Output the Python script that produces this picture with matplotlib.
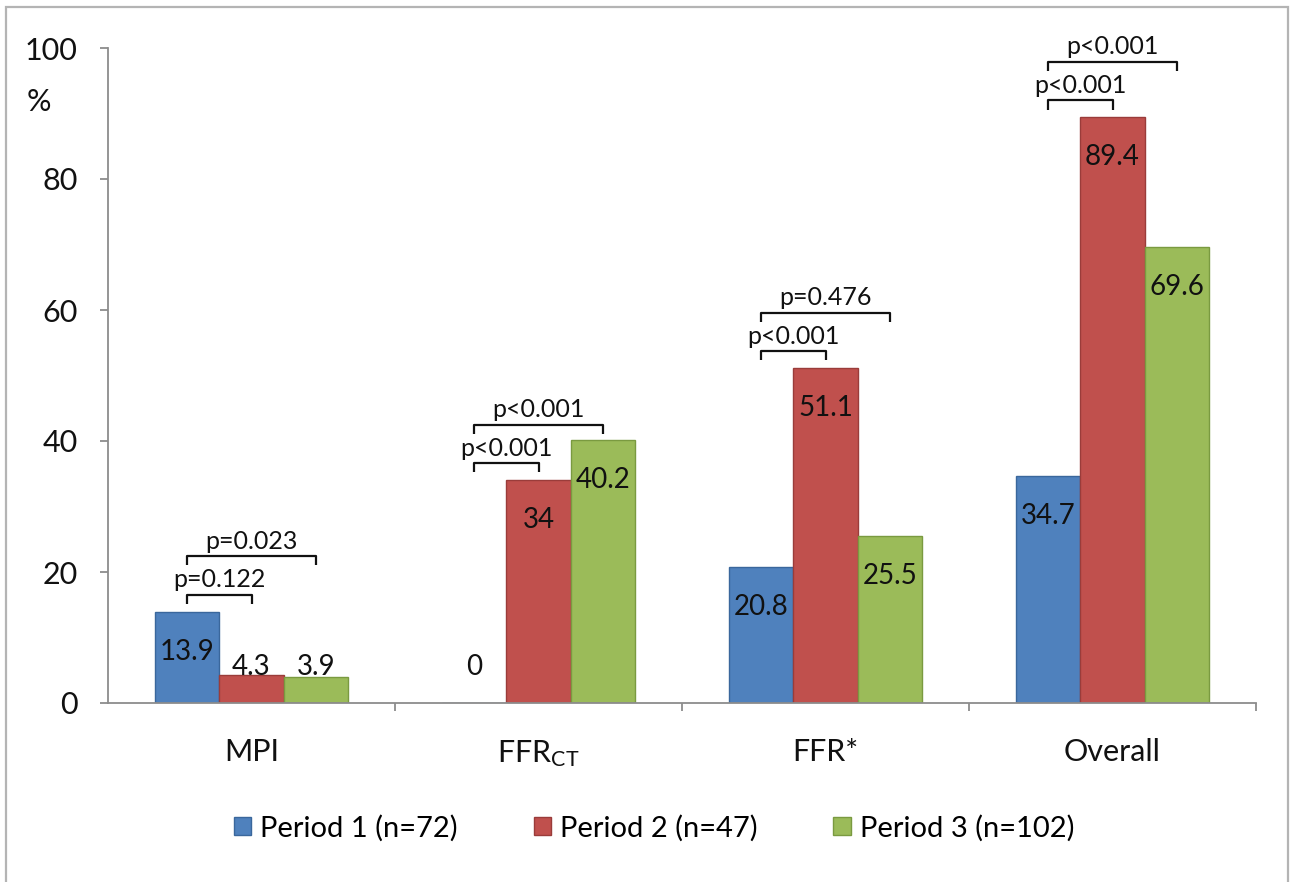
import matplotlib.pyplot as plt
from matplotlib.patches import Rectangle, Patch

plt.rcParams['font.family'] = ['Lato', 'DejaVu Sans']
plt.rcParams['mathtext.default'] = 'regular'

# values
categories = ['MPI', 'FFR$_{CT}$', 'FFR*', 'Overall']
period_labels = ['Period 1 (n=72)', 'Period 2 (n=47)', 'Period 3 (n=102)']
period1 = [13.9, 0, 20.8, 34.7]
period2 = [4.3, 34, 51.1, 89.4]
period3 = [3.9, 40.2, 25.5, 69.6]
p_1_vs_2 = ['p=0.122', 'p<0.001', 'p<0.001', 'p<0.001']
p_1_vs_3 = ['p=0.023', 'p<0.001', 'p=0.476', 'p<0.001']

colors = ['#4F81BD', '#C0504D', '#9BBB59']
edges = ['#3A679C', '#9A3C3A', '#7A9A40']

W, H = 1290, 882
fig = plt.figure(figsize=(W / 100, H / 100), dpi=100)
ax = fig.add_axes([108 / W, 1 - 703 / H, (1256 - 108) / W, (703 - 48) / H])

# outer frame
fig.patches.append(Rectangle((6 / W, -0.02), (1288 - 6) / W, 1.02 - 7 / H,
                             transform=fig.transFigure, fill=False,
                             edgecolor='#b4b4b4', lw=1.6))

w = 0.224
series = [period1, period2, period3]
xs = range(len(categories))
for j, vals in enumerate(series):
    pos = [i + (j - 1) * w for i in xs]
    ax.bar(pos, vals, width=w, color=colors[j], edgecolor=edges[j],
           linewidth=1.0, label=period_labels[j], zorder=2)
    for x, v in zip(pos, vals):
        ax.text(x, max(v - 6.1, 5.5), f'{v:g}', ha='center', va='center',
                fontsize=20, color='#111111', zorder=3)

# significance brackets
for i in xs:
    x0 = i - w
    x1 = i
    x2 = i + w
    end1 = max(period1[i], period2[i]) + 1.2
    top1 = end1 + 1.4
    end2 = top1 + 4.5
    top2 = end2 + 1.4
    for xa, xb, e, t, lab in [(x0, x1, end1, top1, p_1_vs_2[i]),
                              (x0, x2, end2, top2, p_1_vs_3[i])]:
        ax.plot([xa, xa, xb, xb], [e, t, t, e], color='#111111', lw=1.6,
                solid_capstyle='butt', clip_on=False, zorder=3)
        ax.text((xa + xb) / 2, t + 2.3, lab, ha='center', va='center',
                fontsize=18, color='#111111')

ax.set_xlim(-0.5, 3.5)
ax.set_ylim(0, 100)
ax.set_yticks(range(0, 101, 20))
ax.set_xticks([0.5, 1.5, 2.5, 3.5])
ax.set_xticklabels([])
ax.set_xticks(list(xs), minor=True)
ax.set_xticklabels(categories, minor=True)

for s in ['top', 'right']:
    ax.spines[s].set_visible(False)
for s in ['left', 'bottom']:
    ax.spines[s].set_color('#8c8c8c')
    ax.spines[s].set_linewidth(1.3)

ax.tick_params(axis='y', length=6, width=1.3, color='#8c8c8c', pad=16,
               labelsize=22, labelcolor='#111111')
ax.tick_params(axis='x', which='major', length=6, width=1.3, color='#8c8c8c')
ax.tick_params(axis='x', which='minor', length=0, pad=25, labelsize=22,
               labelcolor='#111111')

fig.text(27 / W, 1 - 102 / H, '%', ha='left', va='center', fontsize=22,
         color='#111111')

handles = [Patch(facecolor=colors[j], edgecolor=edges[j], label=period_labels[j])
           for j in range(3)]
fig.legend(handles=handles, loc='center', bbox_to_anchor=(654 / W, 1 - 828 / H),
           ncol=3, frameon=False, fontsize=21, handlelength=0.6,
           handleheight=0.6, handletextpad=0.3, columnspacing=2.6)

fig.savefig('out.png', dpi=100)
